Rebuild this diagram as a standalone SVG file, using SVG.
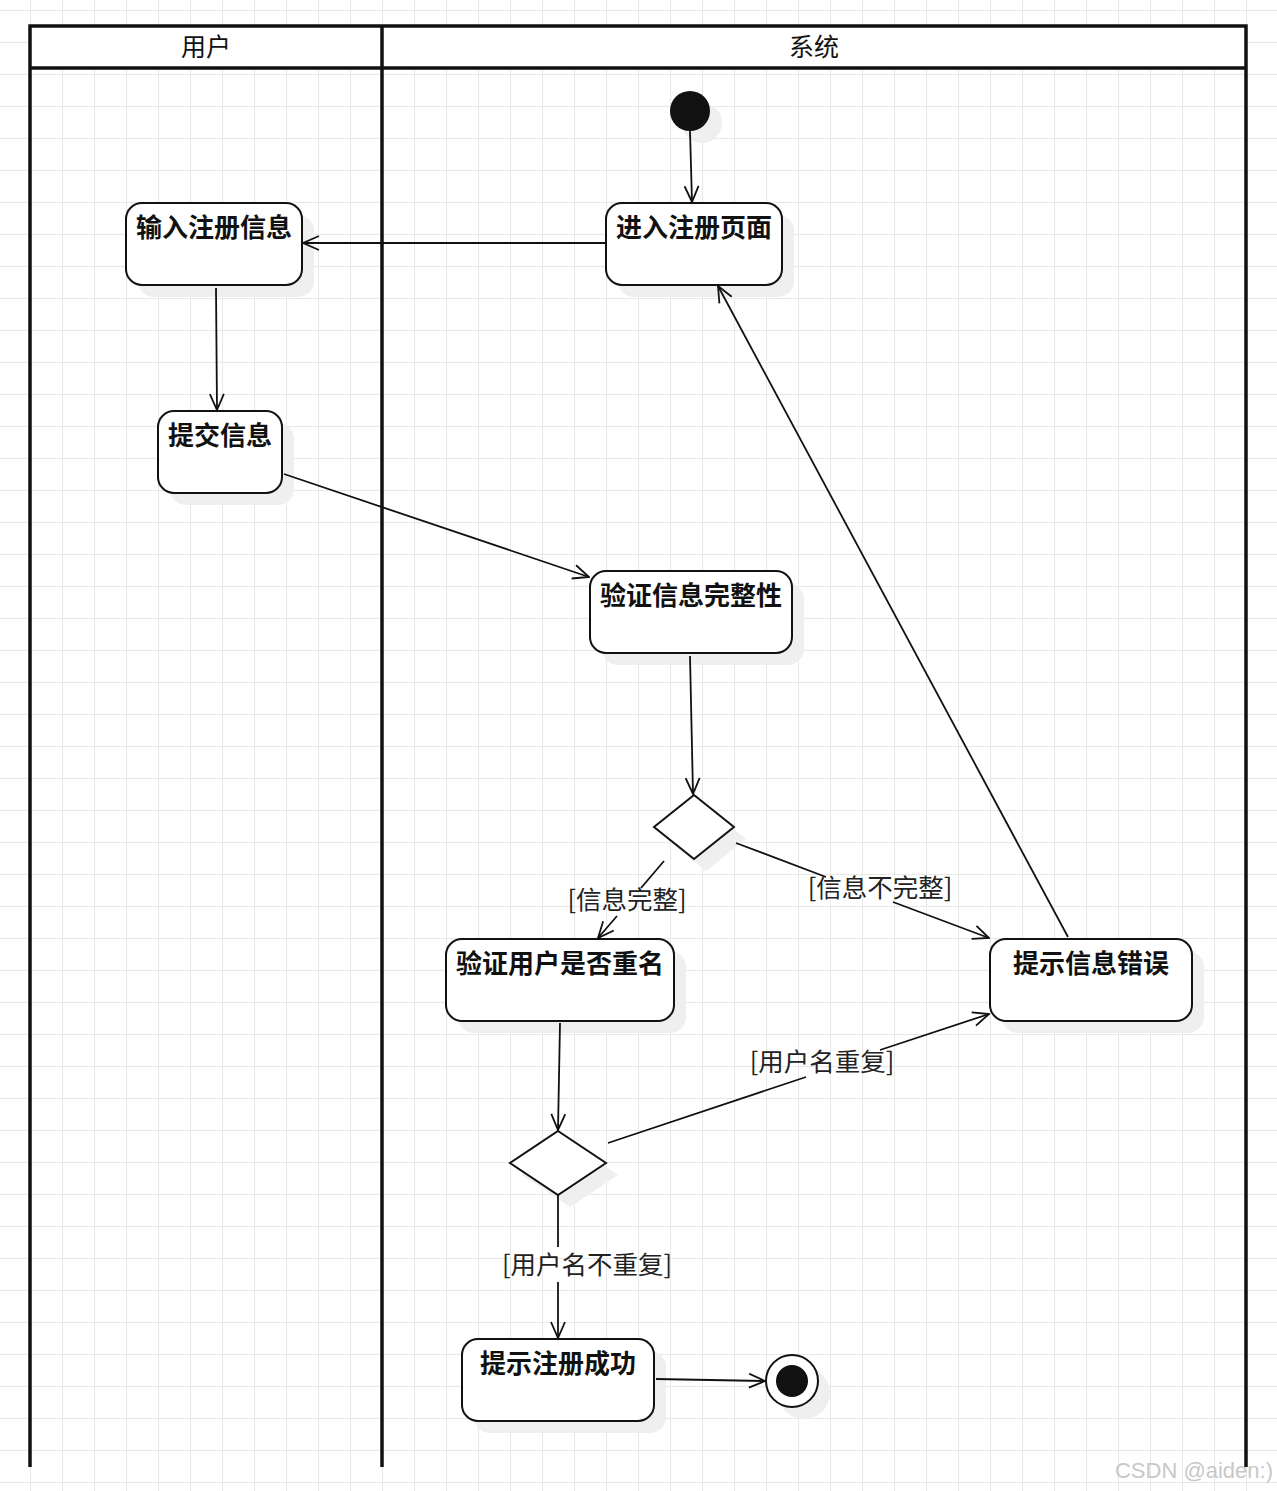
<svg xmlns="http://www.w3.org/2000/svg" width="1277" height="1491" viewBox="0 0 1277 1491">
<defs>
<pattern id="grid" x="30" y="10" width="32" height="32" patternUnits="userSpaceOnUse">
<path d="M0,0 H32 M0,0 V32" fill="none" stroke="#e8e8e8" stroke-width="2"/>
</pattern>
<marker id="arr" viewBox="0 0 18 16" refX="17" refY="8" markerWidth="18" markerHeight="16" markerUnits="userSpaceOnUse" orient="auto">
<path d="M1,1 L17,8 L1,15" fill="none" stroke="#111" stroke-width="1.8"/>
</marker>
</defs>
<style>
.lane{fill:none;stroke:#111;stroke-width:3.5}
.hdr{font-family:"Noto Sans CJK SC","Noto Sans",sans-serif;font-size:25px;fill:#111;text-anchor:middle}
.node rect.sh{fill:#efefef;stroke:none}
.node rect.bx{fill:#fff;stroke:#111;stroke-width:2}
.node text{font-family:"Noto Sans CJK SC","Noto Sans",sans-serif;font-size:26px;font-weight:bold;fill:#111;text-anchor:middle}
.sh{fill:#efefef;stroke:none}
.dm{fill:#fff;stroke:#111;stroke-width:2}
.e{fill:none;stroke:#111;stroke-width:1.8}
.lbl{font-family:"Noto Sans CJK SC","Noto Sans",sans-serif;font-size:25.5px;fill:#222;text-anchor:middle}
</style>
<rect width="1277" height="1491" fill="#fff"/>
<rect width="1277" height="1491" fill="url(#grid)"/>
<g id="swimlanes">
<rect x="30" y="26" width="1216" height="42" fill="#fff"/>
<path class="lane" d="M30,1467 V26 H1246 V1467 M30,68 H1246 M382,26 V1467"/>
<text class="hdr" x="206" y="56">用户</text>
<text class="hdr" x="814" y="56">系统</text>
</g>
<g id="start">
<circle cx="702" cy="123" r="20" class="sh"/>
<circle cx="690" cy="111" r="20" fill="#111"/>
</g>
<g id="n_input" class="node">
<rect class="sh" x="138" y="215" width="176" height="82" rx="16"/>
<rect class="bx" x="126" y="203" width="176" height="82" rx="16"/>
<text x="214" y="237">输入注册信息</text>
</g>
<g id="n_enter" class="node">
<rect class="sh" x="618" y="215" width="176" height="82" rx="16"/>
<rect class="bx" x="606" y="203" width="176" height="82" rx="16"/>
<text x="694" y="237">进入注册页面</text>
</g>
<g id="n_submit" class="node">
<rect class="sh" x="170" y="423" width="124" height="82" rx="16"/>
<rect class="bx" x="158" y="411" width="124" height="82" rx="16"/>
<text x="220" y="445">提交信息</text>
</g>
<g id="n_verify" class="node">
<rect class="sh" x="602" y="583" width="202" height="82" rx="16"/>
<rect class="bx" x="590" y="571" width="202" height="82" rx="16"/>
<text x="691" y="605">验证信息完整性</text>
</g>
<g id="d1">
<polygon class="sh" points="706,807 746,839 706,871 666,839"/>
<polygon class="dm" points="694,795 734,827 694,859 654,827"/>
</g>
<g id="n_dup" class="node">
<rect class="sh" x="458" y="951" width="228" height="82" rx="16"/>
<rect class="bx" x="446" y="939" width="228" height="82" rx="16"/>
<text x="560" y="973">验证用户是否重名</text>
</g>
<g id="n_err" class="node">
<rect class="sh" x="1002" y="951" width="202" height="82" rx="16"/>
<rect class="bx" x="990" y="939" width="202" height="82" rx="16"/>
<text x="1091" y="973">提示信息错误</text>
</g>
<g id="d2">
<polygon class="sh" points="570,1143 618,1175 570,1207 522,1175"/>
<polygon class="dm" points="558,1131 606,1163 558,1195 510,1163"/>
</g>
<g id="n_ok" class="node">
<rect class="sh" x="474" y="1351" width="192" height="82" rx="16"/>
<rect class="bx" x="462" y="1339" width="192" height="82" rx="16"/>
<text x="558" y="1373">提示注册成功</text>
</g>
<g id="end">
<circle cx="804" cy="1393" r="26" class="sh"/>
<circle cx="792" cy="1381" r="26" fill="#fff" stroke="#111" stroke-width="2"/>
<circle cx="792" cy="1381" r="16" fill="#111"/>
</g>
<g id="connectors">
<path class="e" d="M690,131 L692,202" marker-end="url(#arr)"/>
<path class="e" d="M606,243 L303,243" marker-end="url(#arr)"/>
<path class="e" d="M216,288 L217,410" marker-end="url(#arr)"/>
<path class="e" d="M284,474 L589,577" marker-end="url(#arr)"/>
<path class="e" d="M690,656 L693,794" marker-end="url(#arr)"/>
<path class="e" d="M664,861 L641,888"/>
<path class="e" d="M617,916 L598,938" marker-end="url(#arr)"/>
<path class="e" d="M736,843 L826,877"/>
<path class="e" d="M893,902 L989,938" marker-end="url(#arr)"/>
<path class="e" d="M1068,937 L718,286" marker-end="url(#arr)"/>
<path class="e" d="M560,1023 L558,1130" marker-end="url(#arr)"/>
<path class="e" d="M608,1143 L806,1077"/>
<path class="e" d="M880,1050 L989,1014" marker-end="url(#arr)"/>
<path class="e" d="M558,1195 L558,1247"/>
<path class="e" d="M558,1282 L558,1338" marker-end="url(#arr)"/>
<path class="e" d="M656,1379 L765,1381" marker-end="url(#arr)"/>
<text class="lbl" x="627" y="909">[信息完整]</text>
<text class="lbl" x="880" y="897">[信息不完整]</text>
<text class="lbl" x="822" y="1071">[用户名重复]</text>
<text class="lbl" x="587" y="1274">[用户名不重复]</text>
</g>
<text x="1273" y="1478" font-family="Liberation Sans, Arial, sans-serif" font-size="22" fill="#c8c8c8" text-anchor="end">CSDN @aiden:)</text>
</svg>
